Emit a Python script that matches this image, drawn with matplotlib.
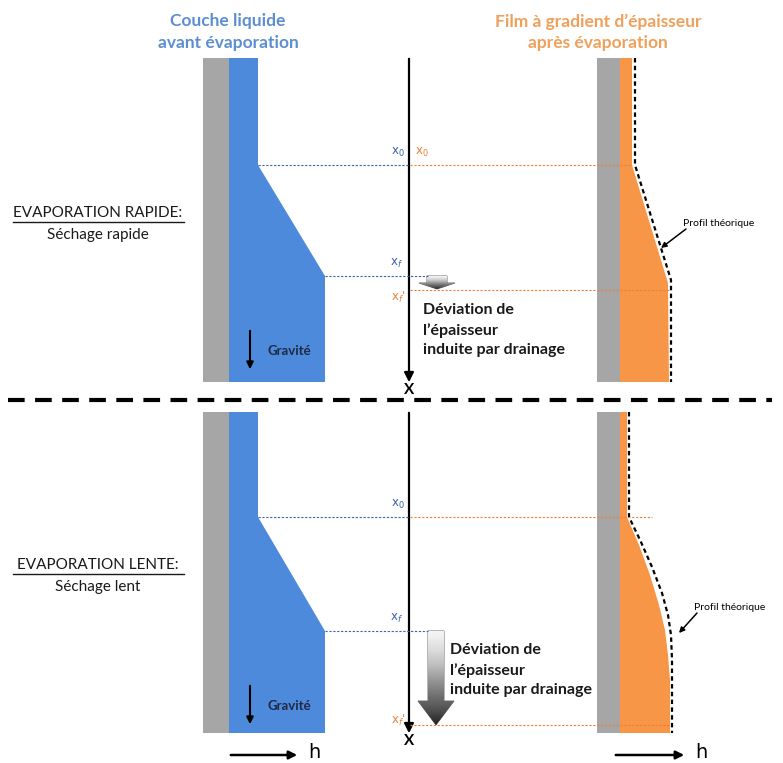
import matplotlib.pyplot as plt
import numpy as np
from matplotlib.patches import Polygon, FancyArrowPatch

plt.rcParams['font.family'] = ['Lato', 'DejaVu Sans']

# --- schematic values (pixel units of the drawing) ---
panel_top = [58, 412]
panel_bottom = [382, 733]
wall_left_x = [203, 597]
wall_right_x = [229, 620]

# liquid layer before evaporation (profile of free surface)
liquid_x = [[258, 258, 325, 325], [258, 258, 325, 325]]
liquid_y = [[58, 165, 276, 382], [412, 517, 631, 733]]

# film after evaporation
film_x = [[632, 632, 668, 669], [627, 627, 639, 650, 659, 665, 668, 670, 670]]
film_y = [[58, 165, 283, 382], [412, 517, 545, 575, 605, 630, 655, 680, 733]]
theory_x = [[635, 635, 671, 671], [629, 629, 641, 652, 662, 668, 671, 672, 672]]
theory_y = [[58, 165, 280, 382], [412, 517, 542, 567, 593, 615, 635, 660, 733]]

x0_y = [165, 517]
xf_y = [276, 631]
xfp_y = [290, 725]
row_titles = ["EVAPORATION RAPIDE:", "EVAPORATION LENTE:"]
row_subtitles = ["Séchage rapide", "Séchage lent"]
row_title_y = [213, 565]

blue = '#4d8adb'
blue_txt = '#5b8fd0'
blue_line = '#3b63a8'
orange = '#f79646'
orange_txt = '#f0a05a'
orange_line = '#e8823a'
gray = '#a6a6a6'

fig = plt.figure(figsize=(7.83, 7.63), dpi=100)
ax = fig.add_axes([0, 0, 1, 1])
ax.set_xlim(0, 783)
ax.set_ylim(763, 0)
ax.axis('off')

# headers
ax.text(228, 32, "Couche liquide\navant évaporation", color=blue_txt, fontsize=12.5,
        fontweight='bold', ha='center', va='center', linespacing=1.4)
ax.text(598, 32, "Film à gradient d’épaisseur\naprès évaporation", color=orange_txt,
        fontsize=12.5, fontweight='bold', ha='center', va='center', linespacing=1.4)

for i in range(2):
    top, bot = panel_top[i], panel_bottom[i]
    # walls
    for k in range(2):
        ax.add_patch(Polygon([(wall_left_x[k], top), (wall_right_x[k], top),
                              (wall_right_x[k], bot), (wall_left_x[k], bot)],
                             closed=True, color=gray, lw=0))
    # liquid
    pts = [(wall_right_x[0], top)] + list(zip(liquid_x[i], liquid_y[i])) + [(wall_right_x[0], bot)]
    ax.add_patch(Polygon(pts, closed=True, color=blue, lw=0))
    # film
    pts = [(wall_right_x[1], top)] + list(zip(film_x[i], film_y[i])) + [(wall_right_x[1], bot)]
    ax.add_patch(Polygon(pts, closed=True, color=orange, lw=0))
    ax.plot(theory_x[i], theory_y[i], color='black', lw=1.6, linestyle=(0, (2, 1.5)))

    # reference lines
    ax.plot([liquid_x[i][1], 409], [x0_y[i], x0_y[i]], color=blue_line, lw=0.8, ls=(0, (2, 1.5)))
    ax.plot([410, film_x[i][1] + (0 if i == 0 else 25)], [x0_y[i], x0_y[i]], color=orange_line,
            lw=0.8, ls=(0, (2, 1.5)))
    ax.plot([liquid_x[i][-1], 428], [xf_y[i], xf_y[i]], color=blue_line, lw=0.8, ls=(0, (2, 1.5)))
    ax.plot([410, 670], [xfp_y[i], xfp_y[i]], color=orange_line, lw=0.8, ls=(0, (2, 1.5)))

    # x axis arrow
    ax.add_patch(FancyArrowPatch((409, top - 2), (409, bot + 3), arrowstyle='-|>',
                                 mutation_scale=14, color='black', lw=1.6))
    ax.text(409, bot + 8, "X", fontsize=11, fontweight='bold', ha='center', va='center')

    # x labels
    ax.text(398, x0_y[i] - 6, "x$_0$", color=blue_line, fontsize=8.5, ha='center', va='bottom',
            family='DejaVu Sans')
    if i == 0:
        ax.text(422, x0_y[i] - 6, "x$_0$", color=orange_line, fontsize=8.5, ha='center',
                va='bottom', family='DejaVu Sans')
    ax.text(397, xf_y[i] - 6, "x$_f$", color=blue_line, fontsize=8.5, ha='center', va='bottom',
            family='DejaVu Sans')
    ax.text(398, xfp_y[i] + (7 if i == 0 else -5), "x$_f$'", color=orange_line, fontsize=8.5,
            ha='center', va='center', family='DejaVu Sans')

    # gravity
    ax.add_patch(FancyArrowPatch((250, xf_y[i] + 52), (250, xf_y[i] + 96), arrowstyle='-|>',
                                 mutation_scale=10, color='black', lw=1.5))
    ax.text(268, xf_y[i] + 75, "Gravité", color='#1f2a44', fontsize=9.5, fontweight='bold',
            ha='left', va='center')

    # row titles
    ax.text(98, row_title_y[i], row_titles[i], fontsize=11, ha='center', va='center',
            color='#1a1a1a')
    ax.plot([13, 184], [row_title_y[i] + 8.5, row_title_y[i] + 8.5], color='#1a1a1a', lw=1.0)
    ax.text(98, row_title_y[i] + 22, row_subtitles[i], fontsize=11, ha='center', va='center',
            color='#1a1a1a')

    # profil theorique
    lab_xy = [(683, 223), (694, 607)][i]
    tip_xy = [(661, 248), (679, 633)][i]
    ax.text(lab_xy[0], lab_xy[1], "Profil théorique", fontsize=7.5, ha='left', va='center')
    ax.annotate("", xy=tip_xy, xytext=(lab_xy[0] + 3, lab_xy[1] + 6),
                arrowprops=dict(arrowstyle='-|>', color='black', lw=1.1, mutation_scale=8,
                                shrinkA=0, shrinkB=0))

# drainage block arrows with gradient
def block_arrow(cx, y0, y1, shaft_w, head_w, head_h):
    return [(cx - shaft_w / 2, y0), (cx + shaft_w / 2, y0), (cx + shaft_w / 2, y1 - head_h),
            (cx + head_w / 2, y1 - head_h), (cx, y1), (cx - head_w / 2, y1 - head_h),
            (cx - shaft_w / 2, y1 - head_h)]

arrows = [(437, xf_y[0], xfp_y[0] - 1, 20, 36, 6), (436, xf_y[1], xfp_y[1], 16, 36, 24)]
for cx, y0, y1, sw, hw, hh in arrows:
    poly = Polygon(block_arrow(cx, y0, y1, sw, hw, hh), closed=True, fc='none', ec='#555555', lw=0.6)
    ax.add_patch(poly)
    grad = np.linspace(0, 1, 100).reshape(-1, 1)
    im = ax.imshow(grad, cmap='Greys', vmin=-0.1, vmax=1.15, aspect='auto',
                   extent=[cx - hw / 2, cx + hw / 2, y1, y0], zorder=1)
    im.set_clip_path(poly)

ax.text(423, 330, "Déviation de\nl’épaisseur\ninduite par drainage", fontsize=11.5,
        fontweight='bold', ha='left', va='center', linespacing=1.45, color='#1a1a1a')
ax.text(450, 670, "Déviation de\nl’épaisseur\ninduite par drainage", fontsize=11.5,
        fontweight='bold', ha='left', va='center', linespacing=1.45, color='#1a1a1a')

# separator
ax.plot([8, 772], [400, 400], color='black', lw=3, ls=(0, (4, 2.5)))

# h arrows
for x0, x1 in [(228, 300), (613, 687)]:
    ax.add_patch(FancyArrowPatch((x0, 755), (x1, 755), arrowstyle='-|>', mutation_scale=12,
                                 color='black', lw=1.8))
    ax.text(x1 + 14, 753, "h", fontsize=14, ha='center', va='center', family='DejaVu Sans')

fig.savefig('out.png', dpi=100)
